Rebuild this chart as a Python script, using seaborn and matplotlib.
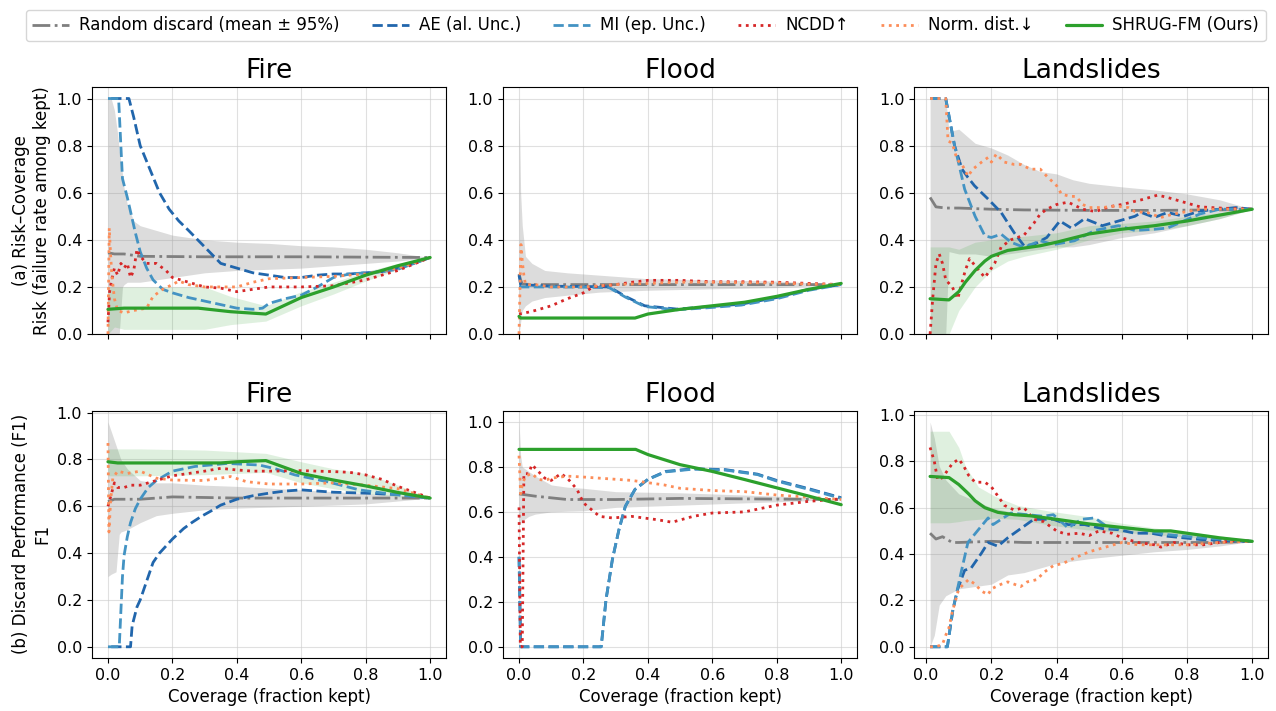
import matplotlib.pyplot as plt
import pandas as pd
import seaborn as sns

# (coverage, value) points; bands are (coverage, low, high)

# ---- Fire, risk ----
fire_risk_rand = [(0.0, 0.345), (0.02, 0.34), (0.05, 0.34), (0.1, 0.33), (0.3, 0.328), (0.6, 0.328), (1.0, 0.325)]
fire_risk_rand_band = [(0.0, 0.0, 1.0), (0.01, 0.0, 1.0), (0.02, 0.0, 0.95), (0.03, 0.0, 0.85), (0.035, 0.0, 0.78),
                       (0.045, 0.2, 0.68), (0.05, 0.21, 0.62), (0.06, 0.22, 0.55), (0.08, 0.22, 0.48), (0.1, 0.22, 0.46),
                       (0.15, 0.23, 0.44), (0.2, 0.24, 0.42), (0.3, 0.26, 0.4), (0.4, 0.27, 0.39), (0.5, 0.275, 0.385),
                       (0.6, 0.28, 0.375), (0.7, 0.29, 0.37), (0.8, 0.3, 0.36), (0.9, 0.31, 0.345), (1.0, 0.325, 0.325)]
fire_risk_ae = [(0.01, 1.0), (0.065, 1.0), (0.08, 0.92), (0.1, 0.8), (0.13, 0.7), (0.16, 0.6), (0.19, 0.53),
                (0.22, 0.48), (0.25, 0.44), (0.3, 0.37), (0.35, 0.3), (0.4, 0.28), (0.45, 0.26), (0.5, 0.25),
                (0.55, 0.24), (0.6, 0.24), (0.65, 0.25), (0.7, 0.255), (0.75, 0.255), (0.8, 0.26), (0.85, 0.265),
                (0.9, 0.28), (0.95, 0.3), (1.0, 0.325)]
fire_risk_mi = [(0.0, 1.0), (0.033, 1.0), (0.04, 0.8), (0.045, 0.66), (0.06, 0.58), (0.07, 0.52), (0.085, 0.43),
                (0.1, 0.35), (0.12, 0.28), (0.14, 0.23), (0.17, 0.19), (0.2, 0.175), (0.25, 0.155), (0.3, 0.14),
                (0.35, 0.125), (0.4, 0.11), (0.45, 0.105), (0.48, 0.11), (0.5, 0.13), (0.55, 0.15), (0.6, 0.165),
                (0.65, 0.2), (0.7, 0.24), (0.75, 0.255), (0.8, 0.26), (0.85, 0.265), (0.9, 0.275), (0.95, 0.3),
                (1.0, 0.325)]
fire_risk_ncdd = [(0.0, 0.05), (0.005, 0.18), (0.01, 0.22), (0.02, 0.28), (0.03, 0.25), (0.04, 0.3), (0.05, 0.28),
                  (0.06, 0.3), (0.07, 0.24), (0.08, 0.27), (0.09, 0.36), (0.1, 0.33), (0.12, 0.3), (0.15, 0.3),
                  (0.18, 0.27), (0.2, 0.24), (0.25, 0.22), (0.3, 0.2), (0.35, 0.195), (0.4, 0.18), (0.45, 0.19),
                  (0.5, 0.2), (0.6, 0.2), (0.7, 0.205), (0.8, 0.23), (0.9, 0.27), (1.0, 0.325)]
fire_risk_norm = [(0.0, 0.0), (0.004, 0.45), (0.008, 0.34), (0.012, 0.25), (0.02, 0.15), (0.03, 0.1), (0.05, 0.09),
                  (0.08, 0.1), (0.1, 0.105), (0.12, 0.11), (0.14, 0.16), (0.17, 0.19), (0.2, 0.21), (0.22, 0.225),
                  (0.25, 0.21), (0.3, 0.2), (0.35, 0.2), (0.4, 0.2), (0.45, 0.22), (0.5, 0.235), (0.6, 0.24),
                  (0.7, 0.245), (0.8, 0.255), (0.9, 0.28), (1.0, 0.325)]
fire_risk_shrug = [(0.0, 0.105), (0.05, 0.11), (0.15, 0.11), (0.28, 0.11), (0.38, 0.095), (0.49, 0.085),
                   (0.6, 0.155), (0.7, 0.2), (0.8, 0.25), (0.9, 0.29), (1.0, 0.325)]
fire_risk_shrug_band = [(0.0, 0.0, 0.2), (0.02, 0.03, 0.2), (0.05, 0.02, 0.2), (0.15, 0.02, 0.2), (0.3, 0.02, 0.2),
                        (0.38, 0.04, 0.16), (0.49, 0.055, 0.12), (0.6, 0.12, 0.18), (0.7, 0.17, 0.22),
                        (0.8, 0.225, 0.265), (0.9, 0.275, 0.3), (1.0, 0.325, 0.325)]

# ---- Fire, F1 ----
fire_f1_rand = [(0.0, 0.62), (0.02, 0.63), (0.1, 0.63), (0.2, 0.64), (0.4, 0.635), (0.6, 0.635), (0.8, 0.635), (1.0, 0.635)]
fire_f1_rand_band = [(0.0, 0.3, 0.96), (0.01, 0.31, 0.92), (0.025, 0.32, 0.86), (0.035, 0.48, 0.82), (0.04, 0.49, 0.8),
                     (0.06, 0.5, 0.76), (0.1, 0.53, 0.71), (0.15, 0.56, 0.7), (0.2, 0.57, 0.7), (0.3, 0.585, 0.69),
                     (0.4, 0.592, 0.685), (0.6, 0.6, 0.67), (0.8, 0.61, 0.655), (1.0, 0.635, 0.635)]
fire_f1_ae = [(0.01, 0.0), (0.07, 0.0), (0.075, 0.09), (0.09, 0.17), (0.1, 0.2), (0.12, 0.28), (0.14, 0.36),
              (0.16, 0.4), (0.18, 0.43), (0.2, 0.46), (0.235, 0.505), (0.26, 0.53), (0.29, 0.557), (0.32, 0.58),
              (0.35, 0.605), (0.4, 0.63), (0.45, 0.645), (0.5, 0.656), (0.55, 0.665), (0.6, 0.67), (0.65, 0.665),
              (0.7, 0.66), (0.8, 0.656), (0.9, 0.65), (1.0, 0.635)]
fire_f1_mi = [(0.0, 0.0), (0.035, 0.0), (0.045, 0.3), (0.05, 0.39), (0.06, 0.47), (0.07, 0.53), (0.085, 0.59),
              (0.1, 0.63), (0.125, 0.68), (0.15, 0.71), (0.2, 0.75), (0.27, 0.77), (0.37, 0.783), (0.47, 0.776),
              (0.52, 0.76), (0.58, 0.734), (0.68, 0.705), (0.78, 0.67), (0.89, 0.65), (1.0, 0.635)]
fire_f1_ncdd = [(0.0, 0.6), (0.01, 0.65), (0.02, 0.7), (0.03, 0.68), (0.05, 0.68), (0.07, 0.69), (0.1, 0.69),
                (0.15, 0.71), (0.2, 0.73), (0.25, 0.74), (0.3, 0.75), (0.35, 0.762), (0.4, 0.755), (0.45, 0.75),
                (0.5, 0.75), (0.6, 0.752), (0.7, 0.748), (0.75, 0.745), (0.8, 0.734), (0.85, 0.715), (0.9, 0.685),
                (0.95, 0.66), (1.0, 0.635)]
fire_f1_norm = [(0.0, 0.87), (0.003, 0.49), (0.008, 0.62), (0.015, 0.72), (0.03, 0.75), (0.06, 0.74), (0.1, 0.75),
                (0.15, 0.72), (0.2, 0.712), (0.3, 0.71), (0.38, 0.727), (0.43, 0.705), (0.5, 0.695), (0.6, 0.695),
                (0.7, 0.7), (0.8, 0.69), (0.9, 0.675), (1.0, 0.635)]
fire_f1_shrug = [(0.0, 0.79), (0.03, 0.785), (0.35, 0.785), (0.4, 0.79), (0.49, 0.795), (0.6, 0.74), (0.7, 0.712),
                 (0.8, 0.687), (0.9, 0.659), (1.0, 0.635)]
fire_f1_shrug_band = [(0.0, 0.73, 0.845), (0.1, 0.73, 0.845), (0.3, 0.735, 0.84), (0.49, 0.745, 0.826),
                      (0.6, 0.7, 0.79), (0.7, 0.675, 0.76), (0.8, 0.655, 0.74), (0.9, 0.64, 0.69), (1.0, 0.635, 0.635)]

# ---- Flood, risk ----
flood_risk_rand = [(0.0, 0.255), (0.005, 0.23), (0.01, 0.212), (0.05, 0.21), (0.3, 0.21), (0.6, 0.21), (1.0, 0.21)]
flood_risk_rand_band = [(0.0, 0.0, 1.0), (0.005, 0.05, 0.6), (0.01, 0.1, 0.46), (0.02, 0.12, 0.33), (0.04, 0.14, 0.3),
                        (0.08, 0.155, 0.27), (0.15, 0.165, 0.26), (0.25, 0.178, 0.25), (0.4, 0.186, 0.235),
                        (0.6, 0.192, 0.23), (0.8, 0.197, 0.225), (1.0, 0.21, 0.21)]
flood_risk_ae = [(0.0, 0.25), (0.005, 0.21), (0.1, 0.203), (0.2, 0.202), (0.28, 0.2), (0.33, 0.16), (0.39, 0.12),
                 (0.49, 0.106), (0.59, 0.116), (0.69, 0.127), (0.8, 0.155), (0.9, 0.19), (1.0, 0.21)]
flood_risk_mi = [(0.0, 0.2), (0.1, 0.2), (0.2, 0.199), (0.28, 0.197), (0.33, 0.157), (0.39, 0.117), (0.49, 0.103),
                 (0.59, 0.112), (0.69, 0.123), (0.8, 0.15), (0.9, 0.186), (1.0, 0.21)]
flood_risk_ncdd = [(0.0, 0.085), (0.02, 0.09), (0.05, 0.1), (0.1, 0.12), (0.15, 0.15), (0.2, 0.175), (0.23, 0.2),
                   (0.3, 0.21), (0.35, 0.22), (0.4, 0.228), (0.5, 0.228), (0.6, 0.222), (0.7, 0.222), (0.8, 0.22),
                   (0.9, 0.215), (1.0, 0.21)]
flood_risk_norm = [(0.0, 0.0), (0.003, 0.2), (0.006, 0.38), (0.01, 0.31), (0.015, 0.25), (0.02, 0.21), (0.05, 0.21),
                   (0.1, 0.2), (0.2, 0.2), (0.3, 0.21), (0.4, 0.215), (0.5, 0.22), (0.6, 0.22), (0.7, 0.218),
                   (0.8, 0.217), (0.9, 0.212), (1.0, 0.21)]
flood_risk_shrug = [(0.0, 0.075), (0.005, 0.068), (0.36, 0.068), (0.4, 0.085), (0.5, 0.105), (0.6, 0.12),
                    (0.7, 0.135), (0.8, 0.16), (0.9, 0.19), (1.0, 0.215)]
flood_risk_shrug_band = []

# ---- Flood, F1 ----
flood_f1_rand = [(0.0, 0.68), (0.05, 0.67), (0.15, 0.655), (0.3, 0.655), (0.5, 0.66), (0.7, 0.658), (1.0, 0.655)]
flood_f1_rand_band = [(0.0, 0.55, 1.0), (0.005, 0.55, 0.85), (0.01, 0.56, 0.8), (0.03, 0.58, 0.78), (0.05, 0.59, 0.76),
                      (0.1, 0.6, 0.72), (0.15, 0.603, 0.71), (0.2, 0.605, 0.705), (0.3, 0.62, 0.69), (0.5, 0.63, 0.685),
                      (0.7, 0.64, 0.675), (0.9, 0.65, 0.665), (1.0, 0.655, 0.655)]
flood_f1_ae = [(0.0, 0.4), (0.005, 0.0), (0.255, 0.0), (0.27, 0.21), (0.29, 0.39), (0.31, 0.52), (0.33, 0.625),
               (0.36, 0.7), (0.4, 0.745), (0.455, 0.78), (0.54, 0.792), (0.64, 0.788), (0.74, 0.768), (0.8, 0.74),
               (0.9, 0.703), (1.0, 0.663)]
flood_f1_mi = [(0.0, 0.4), (0.005, 0.0), (0.255, 0.0), (0.27, 0.21), (0.29, 0.39), (0.31, 0.52), (0.33, 0.625),
               (0.36, 0.7), (0.4, 0.744), (0.455, 0.778), (0.54, 0.79), (0.64, 0.786), (0.74, 0.766), (0.8, 0.737),
               (0.9, 0.7), (1.0, 0.66)]
flood_f1_ncdd = [(0.0, 0.62), (0.004, 0.0), (0.01, 0.0), (0.015, 0.77), (0.03, 0.77), (0.04, 0.81), (0.06, 0.78),
                 (0.08, 0.75), (0.1, 0.74), (0.13, 0.77), (0.15, 0.75), (0.18, 0.7), (0.2, 0.64), (0.25, 0.58),
                 (0.29, 0.573), (0.35, 0.58), (0.43, 0.565), (0.475, 0.554), (0.54, 0.58), (0.6, 0.595), (0.7, 0.6),
                 (0.8, 0.63), (0.9, 0.647), (1.0, 0.658)]
flood_f1_norm = [(0.0, 0.85), (0.005, 0.68), (0.01, 0.72), (0.02, 0.76), (0.04, 0.77), (0.06, 0.745), (0.08, 0.74),
                 (0.1, 0.75), (0.15, 0.759), (0.2, 0.755), (0.25, 0.75), (0.3, 0.745), (0.35, 0.74), (0.4, 0.73),
                 (0.45, 0.72), (0.5, 0.705), (0.6, 0.695), (0.7, 0.69), (0.8, 0.675), (0.9, 0.665), (1.0, 0.655)]
flood_f1_shrug = [(0.0, 0.878), (0.362, 0.878), (0.4, 0.855), (0.5, 0.81), (0.6, 0.78), (0.7, 0.744), (0.8, 0.707),
                  (0.9, 0.67), (1.0, 0.632)]
flood_f1_shrug_band = []

# ---- Landslides, risk ----
land_risk_rand = [(0.012, 0.58), (0.03, 0.54), (0.06, 0.535), (0.1, 0.535), (0.2, 0.53), (0.3, 0.527), (0.5, 0.525),
                  (0.7, 0.525), (0.9, 0.527), (1.0, 0.53)]
land_risk_rand_band = [(0.012, 0.0, 1.0), (0.06, 0.0, 1.0), (0.07, 0.35, 0.86), (0.1, 0.34, 0.87), (0.15, 0.34, 0.81),
                       (0.2, 0.33, 0.79), (0.25, 0.34, 0.76), (0.3, 0.35, 0.72), (0.35, 0.36, 0.69), (0.4, 0.37, 0.68),
                       (0.45, 0.37, 0.655), (0.5, 0.38, 0.64), (0.6, 0.41, 0.625), (0.7, 0.43, 0.612),
                       (0.8, 0.46, 0.595), (0.9, 0.49, 0.57), (1.0, 0.53, 0.53)]
land_risk_ae = [(0.012, 1.0), (0.06, 1.0), (0.087, 0.8), (0.11, 0.7), (0.128, 0.665), (0.148, 0.63), (0.17, 0.6),
                (0.19, 0.573), (0.23, 0.516), (0.27, 0.43), (0.3, 0.375), (0.33, 0.38), (0.37, 0.41), (0.41, 0.48),
                (0.445, 0.45), (0.486, 0.49), (0.54, 0.46), (0.59, 0.48), (0.64, 0.5), (0.66, 0.516), (0.7, 0.495),
                (0.74, 0.516), (0.79, 0.5), (0.84, 0.523), (0.9, 0.53), (0.95, 0.537), (1.0, 0.53)]
land_risk_mi = [(0.012, 1.0), (0.06, 1.0), (0.087, 0.8), (0.118, 0.615), (0.15, 0.5), (0.18, 0.417), (0.2, 0.41),
                (0.23, 0.424), (0.26, 0.39), (0.3, 0.368), (0.35, 0.396), (0.39, 0.38), (0.455, 0.396), (0.517, 0.44),
                (0.59, 0.46), (0.64, 0.44), (0.7, 0.445), (0.74, 0.45), (0.79, 0.48), (0.84, 0.51), (0.9, 0.53),
                (1.0, 0.53)]
land_risk_ncdd = [(0.012, 0.0), (0.02, 0.15), (0.03, 0.3), (0.04, 0.34), (0.05, 0.3), (0.06, 0.23), (0.08, 0.2),
                  (0.097, 0.15), (0.11, 0.22), (0.12, 0.27), (0.133, 0.32), (0.15, 0.29), (0.18, 0.24), (0.19, 0.26),
                  (0.21, 0.3), (0.23, 0.37), (0.26, 0.4), (0.3, 0.42), (0.33, 0.47), (0.35, 0.51), (0.37, 0.53),
                  (0.4, 0.55), (0.435, 0.56), (0.48, 0.53), (0.52, 0.52), (0.56, 0.54), (0.6, 0.55), (0.66, 0.57),
                  (0.71, 0.59), (0.74, 0.58), (0.79, 0.56), (0.84, 0.54), (0.9, 0.535), (1.0, 0.53)]
land_risk_norm = [(0.012, 1.0), (0.06, 1.0), (0.067, 0.82), (0.08, 0.81), (0.095, 0.74), (0.11, 0.72), (0.128, 0.67),
                  (0.143, 0.7), (0.17, 0.73), (0.19, 0.75), (0.2, 0.73), (0.215, 0.764), (0.24, 0.73), (0.27, 0.72),
                  (0.29, 0.72), (0.32, 0.7), (0.35, 0.7), (0.37, 0.67), (0.4, 0.63), (0.415, 0.594), (0.44, 0.585),
                  (0.46, 0.584), (0.48, 0.55), (0.5, 0.537), (0.54, 0.537), (0.58, 0.544), (0.62, 0.537),
                  (0.64, 0.52), (0.68, 0.515), (0.72, 0.495), (0.76, 0.51), (0.8, 0.52), (0.84, 0.53), (1.0, 0.53)]
land_risk_shrug = [(0.012, 0.15), (0.07, 0.145), (0.1, 0.18), (0.12, 0.22), (0.15, 0.27), (0.18, 0.31), (0.2, 0.33),
                   (0.25, 0.355), (0.3, 0.365), (0.35, 0.375), (0.4, 0.39), (0.5, 0.425), (0.6, 0.445), (0.7, 0.46),
                   (0.8, 0.48), (0.9, 0.505), (1.0, 0.53)]
land_risk_shrug_band = [(0.012, 0.0, 0.37), (0.07, 0.0, 0.37), (0.1, 0.1, 0.36), (0.15, 0.2, 0.39), (0.2, 0.27, 0.4),
                        (0.25, 0.31, 0.41), (0.3, 0.33, 0.415), (0.4, 0.36, 0.43), (0.5, 0.4, 0.46), (0.6, 0.43, 0.47),
                        (0.7, 0.44, 0.48), (0.8, 0.46, 0.5), (0.9, 0.49, 0.515), (1.0, 0.53, 0.53)]

# ---- Landslides, F1 ----
land_f1_rand = [(0.012, 0.49), (0.03, 0.465), (0.05, 0.475), (0.08, 0.45), (0.1, 0.45), (0.2, 0.455), (0.3, 0.45),
                (0.5, 0.45), (0.7, 0.45), (0.9, 0.45), (1.0, 0.455)]
land_f1_rand_band = [(0.012, 0.0, 0.97), (0.025, 0.05, 0.9), (0.04, 0.18, 0.78), (0.06, 0.22, 0.72), (0.1, 0.25, 0.66),
                     (0.15, 0.26, 0.63), (0.2, 0.27, 0.6), (0.25, 0.31, 0.585), (0.3, 0.32, 0.57), (0.35, 0.34, 0.56),
                     (0.4, 0.36, 0.55), (0.5, 0.38, 0.53), (0.6, 0.395, 0.52), (0.7, 0.41, 0.5), (0.8, 0.42, 0.49),
                     (0.9, 0.435, 0.475), (1.0, 0.455, 0.455)]
land_f1_ae = [(0.012, 0.0), (0.065, 0.0), (0.082, 0.16), (0.097, 0.25), (0.118, 0.33), (0.138, 0.34), (0.17, 0.405),
              (0.19, 0.45), (0.22, 0.434), (0.25, 0.47), (0.29, 0.51), (0.33, 0.55), (0.39, 0.55), (0.435, 0.527),
              (0.486, 0.527), (0.54, 0.51), (0.59, 0.505), (0.64, 0.49), (0.69, 0.49), (0.74, 0.477), (0.84, 0.463),
              (0.95, 0.456), (1.0, 0.455)]
land_f1_mi = [(0.012, 0.0), (0.065, 0.0), (0.082, 0.16), (0.107, 0.32), (0.128, 0.45), (0.16, 0.505), (0.19, 0.556),
              (0.205, 0.527), (0.23, 0.55), (0.26, 0.577), (0.31, 0.57), (0.36, 0.563), (0.39, 0.57), (0.435, 0.513),
              (0.476, 0.55), (0.517, 0.556), (0.56, 0.513), (0.64, 0.51), (0.74, 0.484), (0.84, 0.47), (1.0, 0.455)]
land_f1_ncdd = [(0.012, 0.86), (0.025, 0.8), (0.035, 0.72), (0.05, 0.73), (0.065, 0.76), (0.08, 0.79), (0.1, 0.81),
                (0.115, 0.78), (0.13, 0.74), (0.15, 0.71), (0.18, 0.71), (0.2, 0.69), (0.22, 0.65), (0.24, 0.61),
                (0.27, 0.59), (0.3, 0.6), (0.33, 0.55), (0.36, 0.54), (0.4, 0.5), (0.43, 0.485), (0.47, 0.49),
                (0.5, 0.48), (0.53, 0.5), (0.57, 0.49), (0.6, 0.47), (0.65, 0.45), (0.7, 0.44), (0.72, 0.43),
                (0.76, 0.45), (0.8, 0.44), (0.85, 0.44), (0.9, 0.45), (0.95, 0.46), (1.0, 0.455)]
land_f1_norm = [(0.012, 0.0), (0.03, 0.0), (0.05, 0.01), (0.06, 0.05), (0.07, 0.083), (0.08, 0.15), (0.09, 0.2),
                (0.1, 0.25), (0.115, 0.27), (0.13, 0.29), (0.15, 0.27), (0.17, 0.24), (0.19, 0.225), (0.2, 0.25),
                (0.23, 0.27), (0.25, 0.28), (0.27, 0.27), (0.29, 0.26), (0.31, 0.28), (0.34, 0.29), (0.36, 0.32),
                (0.39, 0.35), (0.42, 0.36), (0.45, 0.38), (0.5, 0.41), (0.55, 0.43), (0.6, 0.45), (0.65, 0.44),
                (0.7, 0.44), (0.8, 0.44), (0.9, 0.45), (1.0, 0.455)]
land_f1_shrug = [(0.012, 0.735), (0.07, 0.73), (0.1, 0.7), (0.13, 0.66), (0.15, 0.63), (0.18, 0.6), (0.22, 0.58),
                 (0.27, 0.57), (0.32, 0.565), (0.4, 0.55), (0.5, 0.53), (0.6, 0.515), (0.7, 0.5), (0.75, 0.5),
                 (0.8, 0.49), (0.85, 0.48), (0.9, 0.47), (1.0, 0.455)]
land_f1_shrug_band = [(0.012, 0.535, 0.93), (0.07, 0.535, 0.93), (0.1, 0.54, 0.86), (0.12, 0.545, 0.78),
                      (0.16, 0.55, 0.69), (0.21, 0.555, 0.65), (0.28, 0.55, 0.61), (0.38, 0.525, 0.585),
                      (0.49, 0.505, 0.563), (0.59, 0.495, 0.535), (0.74, 0.48, 0.505), (0.9, 0.465, 0.48),
                      (1.0, 0.455, 0.455)]

disasters = ["Fire", "Flood", "Landslides"]
row_labels = ["(a) Risk\u2013Coverage\nRisk (failure rate among kept)", "(b) Discard Performance (F1)\nF1"]
method_labels = ["Random discard (mean \u00b1 95%)", "AE (al. Unc.)", "MI (ep. Unc.)",
                 "NCDD\u2191", "Norm. dist.\u2193", "SHRUG-FM (Ours)"]
method_colors = ["#7f7f7f", "#2166ac", "#4393c3", "#d62728", "#fc8d59", "#2ca02c"]
method_styles = ["-.", "--", "--", ":", ":", "-"]
method_widths = [2.0, 2.0, 2.0, 2.0, 2.0, 2.3]

panels = [
    [(fire_risk_rand, fire_risk_ae, fire_risk_mi, fire_risk_ncdd, fire_risk_norm, fire_risk_shrug,
      fire_risk_rand_band, fire_risk_shrug_band),
     (flood_risk_rand, flood_risk_ae, flood_risk_mi, flood_risk_ncdd, flood_risk_norm, flood_risk_shrug,
      flood_risk_rand_band, flood_risk_shrug_band),
     (land_risk_rand, land_risk_ae, land_risk_mi, land_risk_ncdd, land_risk_norm, land_risk_shrug,
      land_risk_rand_band, land_risk_shrug_band)],
    [(fire_f1_rand, fire_f1_ae, fire_f1_mi, fire_f1_ncdd, fire_f1_norm, fire_f1_shrug,
      fire_f1_rand_band, fire_f1_shrug_band),
     (flood_f1_rand, flood_f1_ae, flood_f1_mi, flood_f1_ncdd, flood_f1_norm, flood_f1_shrug,
      flood_f1_rand_band, flood_f1_shrug_band),
     (land_f1_rand, land_f1_ae, land_f1_mi, land_f1_ncdd, land_f1_norm, land_f1_shrug,
      land_f1_rand_band, land_f1_shrug_band)],
]

sns.set_style("ticks")
plt.rcParams["font.family"] = ["DejaVu Sans"]
plt.rcParams.update({
    "text.color": "black", "axes.labelcolor": "black", "axes.edgecolor": "black",
    "xtick.color": "black", "ytick.color": "black",
    "xtick.major.size": 3.5, "ytick.major.size": 3.5,
    "xtick.major.width": 0.8, "ytick.major.width": 0.8, "axes.linewidth": 0.8,
})

fig, axes = plt.subplots(2, 3, figsize=(12.76, 7.11), dpi=100, sharex="col")
fig.subplots_adjust(left=0.072, right=0.994, top=0.878, bottom=0.0745, wspace=0.16, hspace=0.31)

for r in range(2):
    for c in range(3):
        ax = axes[r, c]
        data = panels[r][c]
        lines, rand_band, shrug_band = data[:6], data[6], data[7]
        for band, col, a in [(rand_band, "gray", 0.27), (shrug_band, "#2ca02c", 0.15)]:
            if band:
                b = pd.DataFrame(band, columns=["coverage", "lo", "hi"])
                ax.fill_between(b["coverage"], b["lo"], b["hi"], color=col, alpha=a, linewidth=0)
        for pts, lab, col, ls, lw in zip(lines, method_labels, method_colors, method_styles, method_widths):
            df = pd.DataFrame(pts, columns=["coverage", "value"])
            sns.lineplot(data=df, x="coverage", y="value", ax=ax, color=col, linestyle=ls,
                         linewidth=lw, estimator=None, sort=False, label=lab)
        if ax.get_legend() is not None:
            ax.get_legend().remove()
        if r == 0:
            ax.set_ylim(0, 1.05)
        ax.set_title(disasters[c], fontsize=19)
        ax.set_xticks([0.0, 0.2, 0.4, 0.6, 0.8, 1.0])
        ax.set_yticks([0.0, 0.2, 0.4, 0.6, 0.8, 1.0])
        ax.grid(True, color="#cccccc", alpha=0.6, linewidth=0.8)
        ax.set_xlabel("Coverage (fraction kept)", fontsize=12)
        ax.set_ylabel(row_labels[r] if c == 0 else "", fontsize=12)
        ax.tick_params(labelsize=11.5)

handles, labels = axes[0, 0].get_legend_handles_labels()
fig.legend(handles, labels, loc="upper center", bbox_to_anchor=(0.506, 0.998), ncol=6, fontsize=12,
           handlelength=2.2, handletextpad=0.6, columnspacing=1.95, frameon=True)

fig.savefig("out.png", dpi=100)
